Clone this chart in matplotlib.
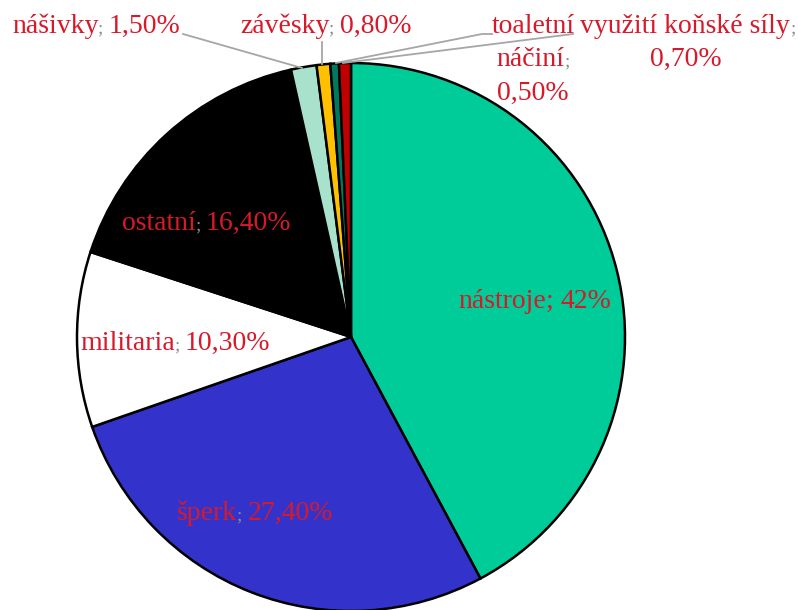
import numpy as np
import matplotlib.pyplot as plt

names = ['nástroje', 'šperk', 'militaria', 'ostatní', 'nášivky', 'závěsky',
         'toaletní náčiní', 'využití koňské síly']
shares = [42.0, 27.4, 10.3, 16.4, 1.5, 0.8, 0.5, 0.7]
value_labels = ['42%', '27,40%', '10,30%', '16,40%', '1,50%', '0,80%', '0,50%', '0,70%']
colors = ['#00CC99', '#3333CC', '#FFFFFF', '#000000', '#A8E2CC', '#FFC000',
          '#007A5E', '#C00000']

RED = '#D7192A'
GRAY = '#8C8C8C'
H = 610

fig = plt.figure(figsize=(7.98, 6.10), dpi=100)
ax = fig.add_axes([0, 0, 1, 1])
ax.pie(shares, colors=colors, startangle=90, counterclock=False,
       center=(351, H - 337), radius=274,
       wedgeprops=dict(edgecolor='black', linewidth=1.8))
ax.set_xlim(0, 798)
ax.set_ylim(0, H)
ax.set_aspect('auto')
ax.axis('off')

renderer = fig.canvas.get_renderer()


def label(x, y, parts, ha='left'):
    # parts: list of (text, colour); gray semicolons are drawn smaller
    texts = []
    for t, c in parts:
        size = 14 if (t.startswith(';') and c == GRAY) else 20
        texts.append(ax.text(0, H - y, t, color=c, family='Liberation Serif',
                             fontsize=size, va='baseline'))
    widths = [t.get_window_extent(renderer).width for t in texts]
    x0 = x - sum(widths) / 2 if ha == 'center' else x
    for t, w in zip(texts, widths):
        t.set_x(x0)
        x0 += w


label(12, 33, [(names[4], RED), ('; ', GRAY), (value_labels[4], RED)])
label(240, 33, [(names[5], RED), ('; ', GRAY), (value_labels[5], RED)])
label(533, 33, [('toaletní', RED)], ha='center')
label(533, 66, [('náčiní', RED), (';', GRAY)], ha='center')
label(533, 100, [(value_labels[6], RED)], ha='center')
label(580, 33, [(names[7], RED), (';', GRAY)])
label(686, 66, [(value_labels[7], RED)], ha='center')
label(122, 230, [(names[3], RED), ('; ', GRAY), (value_labels[3], RED)])
label(80, 350, [(names[2], RED), ('; ', GRAY), (value_labels[2], RED)])
label(458, 308, [(names[0], RED), ('; ', RED), (value_labels[0], RED)])
label(177, 520, [(names[1], RED), ('; ', GRAY), (value_labels[1], RED)])

# leader lines
lc = dict(color='#A6A6A6', linewidth=1.3)
ax.plot([183, 302], [H - 34, H - 68], **lc)
ax.plot([322, 322], [H - 42, H - 64], **lc)
ax.plot([492, 482, 336], [H - 34, H - 34, H - 63], **lc)
ax.plot([573, 343], [H - 34, H - 63], **lc)

fig.savefig('out.png', dpi=100)
